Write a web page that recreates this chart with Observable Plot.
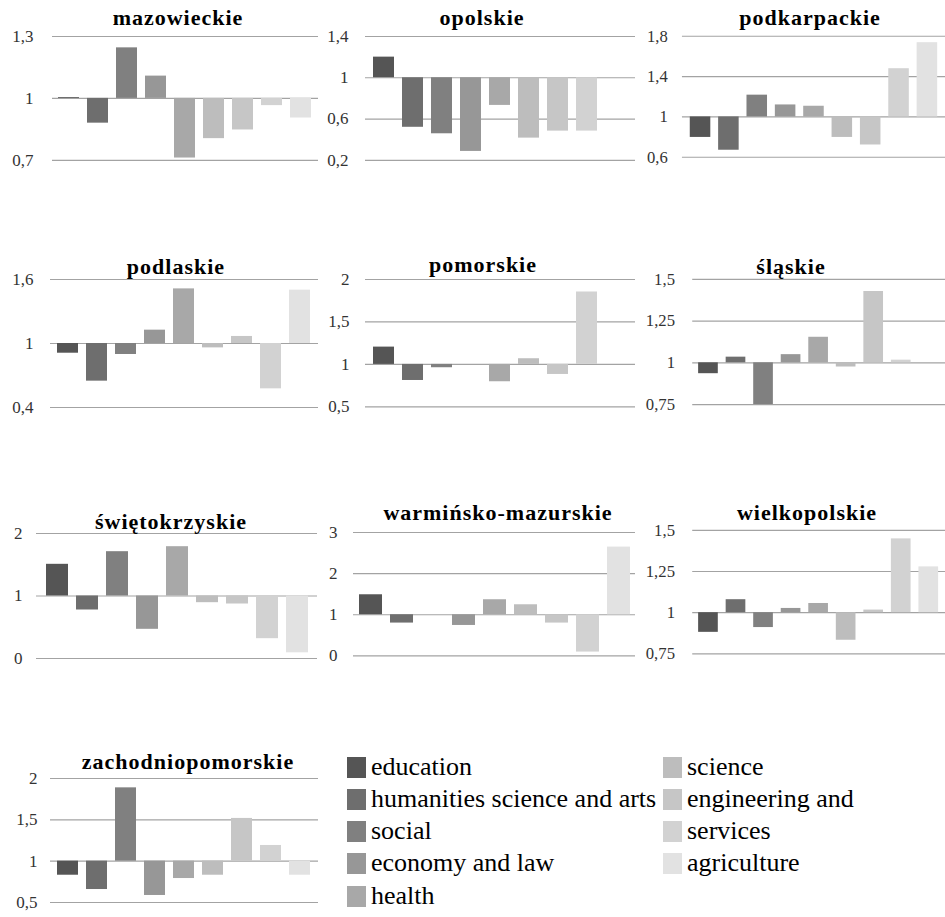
<!DOCTYPE html>
<html>
<head>
<meta charset="utf-8">
<script src="https://cdn.jsdelivr.net/npm/d3@7"></script>
<script src="https://cdn.jsdelivr.net/npm/@observablehq/plot@0.6"></script>
<style>
  html, body { margin: 0; padding: 0; background: #fff; }
  #root { position: relative; width: 945px; height: 917px; overflow: hidden; background: #fff; font-family: "Liberation Serif", "Times New Roman", serif; }
  .panel { position: absolute; }
  .title { position: absolute; transform: translate(-50%, -50%); font-family: "Liberation Serif", serif; font-weight: bold; font-size: 22px; letter-spacing: 1px; color: #000; white-space: nowrap; }
  .leg { position: absolute; display: flex; align-items: center; font-family: "Liberation Serif", serif; font-size: 26px; color: #000; white-space: nowrap; height: 32px; }
  .sw { width: 19px; height: 21px; margin-right: 5px; flex: none; }
</style>
</head>
<body>
<div id="root"></div>
<script>
const categories = ["education", "humanities science and arts", "social", "economy and law", "health", "science", "engineering and", "services", "agriculture"];
const colors = ["#555555", "#6e6e6e", "#808080", "#979797", "#a8a8a8", "#bdbdbd", "#c6c6c6", "#d2d2d2", "#e2e2e2"];

const mazowieckie        = [1.004, 0.88, 1.245, 1.108, 0.711, 0.805, 0.847, 0.965, 0.905];
const opolskie           = [1.2, 0.52, 0.457, 0.286, 0.732, 0.415, 0.483, 0.483, 1.0];
const podkarpackie       = [0.797, 0.67, 1.216, 1.119, 1.106, 0.797, 0.722, 1.478, 1.736];
const podlaskie          = [0.909, 0.647, 0.897, 1.125, 1.512, 0.959, 1.066, 0.575, 1.5];
const pomorskie          = [1.204, 0.811, 0.961, 1.0, 0.796, 1.067, 0.882, 1.853, 1.0];
const slaskie            = [0.935, 1.034, 0.75, 1.049, 1.153, 0.975, 1.427, 1.016, 1.0];
const swietokrzyskie     = [1.507, 0.776, 1.709, 0.467, 1.789, 0.893, 0.872, 0.317, 0.091];
const warminskoMazurskie = [1.486, 0.798, 1.0, 0.74, 1.365, 1.243, 0.798, 0.093, 2.645];
const wielkopolskie      = [0.881, 1.079, 0.91, 1.026, 1.056, 0.833, 1.016, 1.448, 1.278];
const zachodniopomorskie = [0.83, 0.657, 1.887, 0.585, 0.79, 0.83, 1.517, 1.19, 0.83];

const ticksMazowieckie        = [0.7, 1, 1.3];
const ticksOpolskie           = [0.2, 0.6, 1, 1.4];
const ticksPodkarpackie       = [0.6, 1, 1.4, 1.8];
const ticksPodlaskie          = [0.4, 1, 1.6];
const ticksPomorskie          = [0.5, 1, 1.5, 2];
const ticksSlaskie            = [0.75, 1, 1.25, 1.5];
const ticksSwietokrzyskie     = [0, 1, 2];
const ticksWarminskoMazurskie = [0, 1, 2, 3];
const ticksWielkopolskie      = [0.75, 1, 1.25, 1.5];
const ticksZachodniopomorskie = [0.5, 1, 1.5, 2];

const panels = [
  {name: "mazowieckie", values: mazowieckie, ticks: ticksMazowieckie, x0: 52, x1: 318, yTop: 35.5, yBot: 159.3, labelRight: 33, tx: 178, ty: 18},
  {name: "opolskie", values: opolskie, ticks: ticksOpolskie, x0: 365, x1: 635, yTop: 35.5, yBot: 159.3, labelRight: 348, tx: 482, ty: 18},
  {name: "podkarpackie", values: podkarpackie, ticks: ticksPodkarpackie, x0: 683, x1: 952, yTop: 35.5, yBot: 159.3, labelRight: 668, tx: 810, ty: 18},
  {name: "podlaskie", values: podlaskie, ticks: ticksPodlaskie, x0: 50, x1: 318, yTop: 279.3, yBot: 407.3, labelRight: 33, tx: 176, ty: 267},
  {name: "pomorskie", values: pomorskie, ticks: ticksPomorskie, x0: 365, x1: 635, yTop: 279.3, yBot: 406.7, labelRight: 349, tx: 483, ty: 265},
  {name: "śląskie", values: slaskie, ticks: ticksSlaskie, x0: 693, x1: 950, yTop: 279.3, yBot: 406.7, labelRight: 675, tx: 791, ty: 267},
  {name: "świętokrzyskie", values: swietokrzyskie, ticks: ticksSwietokrzyskie, x0: 36, x1: 317, yTop: 533.3, yBot: 658.3, labelRight: 22, tx: 171, ty: 522},
  {name: "warmińsko-mazurskie", values: warminskoMazurskie, ticks: ticksWarminskoMazurskie, x0: 353, x1: 635, yTop: 532.3, yBot: 655.7, labelRight: 337, tx: 498, ty: 513},
  {name: "wielkopolskie", values: wielkopolskie, ticks: ticksWielkopolskie, x0: 693, x1: 950, yTop: 530, yBot: 655.7, labelRight: 675, tx: 807, ty: 513},
  {name: "zachodniopomorskie", values: zachodniopomorskie, ticks: ticksZachodniopomorskie, x0: 50, x1: 318, yTop: 777.7, yBot: 901.7, labelRight: 37, tx: 188, ty: 762}
];

const root = document.getElementById("root");
const ML = 48, MT = 12, MB = 12;
const fmt = d => String(d).replace(".", ",");

for (const p of panels) {
  const data = categories.map((c, i) => ({category: c, value: p.values[i]}));
  const width = p.x1 - p.x0 + ML;
  const height = p.yBot - p.yTop + MT + MB;
  const chart = Plot.plot({
    width, height,
    marginLeft: ML, marginRight: 0, marginTop: MT, marginBottom: MB,
    style: {fontFamily: "'Liberation Serif', serif", fontSize: "17px", color: "#333", background: "transparent", overflow: "visible"},
    x: {domain: categories, axis: null, paddingInner: 0.27, paddingOuter: 0.17},
    y: {domain: [p.ticks[0], p.ticks[p.ticks.length - 1]], axis: null},
    color: {domain: categories, range: colors},
    marks: [
      Plot.ruleY(p.ticks, {stroke: "#a3a3a3", strokeWidth: 1.2}),
      Plot.barY(data, {x: "category", y1: 1, y2: "value", fill: "category"}),
      Plot.axisY(p.ticks, {label: null, tickSize: 0, tickPadding: p.x0 - p.labelRight, tickFormat: fmt, fill: "#333"})
    ]
  });
  const div = document.createElement("div");
  div.className = "panel";
  div.style.left = (p.x0 - ML) + "px";
  div.style.top = (p.yTop - MT) + "px";
  div.appendChild(chart);
  root.appendChild(div);

  const t = document.createElement("div");
  t.className = "title";
  t.textContent = p.name;
  t.style.left = p.tx + "px";
  t.style.top = p.ty + "px";
  root.appendChild(t);
}

// legend
const legendRows = [767, 799, 831, 863, 896];
categories.forEach((c, i) => {
  const col = i < 5 ? 0 : 1;
  const row = i < 5 ? i : i - 5;
  const item = document.createElement("div");
  item.className = "leg";
  item.style.left = (col === 0 ? 347 : 663) + "px";
  item.style.top = (legendRows[row] - 16) + "px";
  const sw = document.createElement("div");
  sw.className = "sw";
  sw.style.background = colors[i];
  const tx = document.createElement("span");
  tx.textContent = c;
  item.appendChild(sw);
  item.appendChild(tx);
  root.appendChild(item);
});
</script>
</body>
</html>
